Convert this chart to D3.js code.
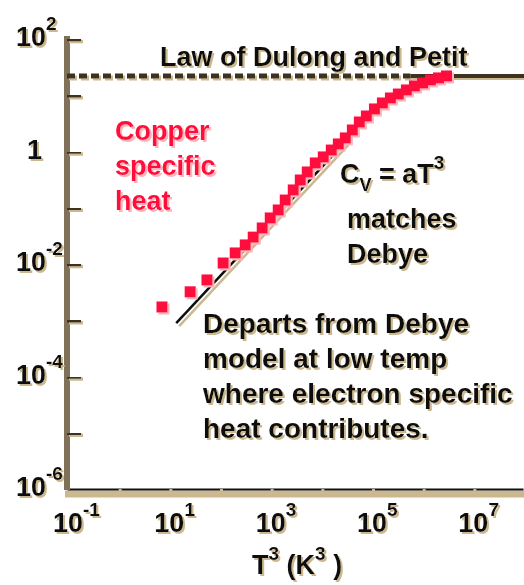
<!DOCTYPE html>
<html>
<head>
<meta charset="utf-8">
<script src="https://cdn.jsdelivr.net/npm/d3@7"></script>
<style>
  body { margin: 0; background: #fff; }
  svg { display: block; font-family: "Liberation Sans", Arial, sans-serif; font-weight: bold; }
</style>
</head>
<body>
<svg id="chart" width="524" height="585"></svg>
<script>
"use strict";

// copper specific heat (T^3 in K^3, Cv in J/mol K)
const copperT3 = [7.5, 27, 58, 121, 209, 330, 474, 714, 1028, 1479, 2033, 2924, 4027, 5534,
  7960, 11450, 16480, 22700, 31200, 42900, 58900, 81100, 1.17e5, 1.68e5, 2.42e5, 3.47e5,
  5.0e5, 7.2e5, 1.04e6, 1.49e6, 2.15e6, 3.09e6];
const copperCv = [1.72e-3, 3.2e-3, 5.2e-3, 0.0104, 0.0157, 0.0218, 0.030, 0.0436, 0.0658, 0.0912,
  0.137, 0.207, 0.311, 0.432, 0.625, 0.80, 1.06, 1.36, 1.74, 2.41, 3.34, 4.27, 5.7, 7.28,
  8.93, 10.5, 12.4, 14.6, 16.5, 18.7, 20.3, 22];

// Debye T^3 line (end points)
const debyeT3 = [14.3, 31200];
const debyeCv = [8.9e-4, 1.48];

// Dulong-Petit limit, dashed up to where it turns solid
const dulongCv = 22;
const dulongSolidFrom = 6e5;

// tick labels (powers of ten)
const xLabelExps = [-1, 1, 3, 5, 7];
const yLabelExps = [2, 0, -2, -4, -6];

const width = 524, height = 585;
const margin = { left: 67, top: 39, right: 1, bottom: 96 };

const tan = "#cbb88e";
const svg = d3.select("#chart");

//drop shadows; user space so flat lines still get one
const defs = svg.append("defs");
const shadow = function (id, color, d) {
  defs.append("filter").attr("id", id).attr("filterUnits", "userSpaceOnUse")
    .attr("x", 0).attr("y", 0).attr("width", width).attr("height", height)
    .append("feDropShadow").attr("dx", d).attr("dy", d)
    .attr("stdDeviation", 0.3).attr("flood-color", color).attr("flood-opacity", 1);
};
shadow("tanShadow", tan, 2);
shadow("pinkShadow", "#ffb3ba", 2);
shadow("lineShadow", tan, 3);

const x = d3.scaleLog().domain([1e-1, 1e8]).range([margin.left, width - margin.right]);
const y = d3.scaleLog().domain([1e-6, 1e2]).range([height - margin.bottom, margin.top]);

// x axis: tan band under a black line, ticks pointing up
svg.append("line")
  .attr("x1", x(1e-1) - 2).attr("x2", width)
  .attr("y1", y(1e-6) + 5).attr("y2", y(1e-6) + 5)
  .attr("stroke", tan).attr("stroke-width", 7);

const xAxis = svg.append("g")
  .attr("transform", "translate(0," + y(1e-6) + ")")
  .call(d3.axisTop(x).tickValues(d3.range(0, 9).map(e => Math.pow(10, e)))
    .tickSize(8).tickSizeOuter(0).tickFormat(""));
xAxis.select(".domain").attr("stroke", "#111").attr("stroke-width", 2);
xAxis.selectAll(".tick line").attr("stroke", "#3a3224").attr("stroke-width", 3)
  .attr("filter", "url(#tanShadow)");

// y axis: thick brown line, ticks pointing right
const yAxis = svg.append("g")
  .attr("transform", "translate(" + x(1e-1) + ",0)")
  .call(d3.axisRight(y).tickValues(d3.range(-5, 3).map(e => Math.pow(10, e)))
    .tickSize(14).tickSizeOuter(0).tickFormat(""));
yAxis.select(".domain").attr("stroke", "#7f7259").attr("stroke-width", 6)
  .attr("d", "M0," + (y(1e2) - 3) + "V" + (y(1e-6) + 1));
yAxis.selectAll(".tick line").attr("stroke", "#3a3224").attr("stroke-width", 3.5)
  .attr("filter", "url(#tanShadow)");

// power-of-ten labels
const powLabel = function (px, py, exp) {
  const t = svg.append("text").attr("x", px).attr("y", py)
    .attr("font-size", 27).attr("fill", "#111").attr("filter", "url(#tanShadow)");
  if (exp === 0) { t.text("1"); return; }
  t.append("tspan").text("10");
  t.append("tspan").attr("font-size", 19).attr("dy", -16).text(exp < 0 ? "-" + (-exp) : exp);
};
for (let e of xLabelExps) powLabel(x(Math.pow(10, e)) - 14, 532, e);
for (let e of yLabelExps) powLabel(e === 0 ? 27 : 16, y(Math.pow(10, e)) + 7, e);

// x axis title T^3 (K^3)
const title = svg.append("text").attr("x", 252).attr("y", 574)
  .attr("font-size", 27).attr("fill", "#111").attr("filter", "url(#tanShadow)");
title.append("tspan").text("T");
title.append("tspan").attr("font-size", 19).attr("dy", -14).text("3");
title.append("tspan").attr("dy", 14).text(" (K");
title.append("tspan").attr("font-size", 19).attr("dy", -14).text("3");
title.append("tspan").attr("dy", 14).text(" )");

// Dulong and Petit line
svg.append("line")
  .attr("x1", x(1e-1)).attr("x2", x(dulongSolidFrom))
  .attr("y1", y(dulongCv)).attr("y2", y(dulongCv))
  .attr("stroke", "#3a3224").attr("stroke-width", 5).attr("stroke-dasharray", "8,4")
  .attr("filter", "url(#tanShadow)");
svg.append("line")
  .attr("x1", x(dulongSolidFrom)).attr("x2", width)
  .attr("y1", y(dulongCv)).attr("y2", y(dulongCv))
  .attr("stroke", "#3a3224").attr("stroke-width", 4)
  .attr("filter", "url(#tanShadow)");

svg.append("text").attr("x", 160).attr("y", 66)
  .attr("font-size", 27).attr("fill", "#111").attr("filter", "url(#tanShadow)")
  .text("Law of Dulong and Petit");

// Debye T^3 line
const line = d3.line().x(d => x(d[0])).y(d => y(d[1]));
svg.append("path")
  .attr("d", line(d3.zip(debyeT3, debyeCv)))
  .attr("stroke", "#111").attr("stroke-width", 2.5).attr("fill", "none")
  .attr("filter", "url(#lineShadow)");

// copper data squares
const sq = 11;
svg.append("g").attr("filter", "url(#pinkShadow)")
  .selectAll("rect")
  .data(d3.zip(copperT3, copperCv))
  .enter()
  .append("rect")
  .attr("x", d => x(d[0]) - sq / 2)
  .attr("y", d => y(d[1]) - sq / 2)
  .attr("width", sq).attr("height", sq)
  .attr("fill", "#ff0a3c");

// annotations
const block = function (lines, px, py, color, filt, size) {
  const t = svg.append("text").attr("font-size", size).attr("fill", color)
    .attr("filter", "url(#" + filt + ")");
  lines.forEach((s, i) => {
    t.append("tspan").attr("x", px).attr("y", py + i * 35).text(s);
  });
};
block(["Copper", "specific", "heat"], 115, 140, "#ff0a3c", "pinkShadow", 27);
block(["matches", "Debye"], 347, 228, "#111", "tanShadow", 27);
block(["Departs from Debye", "model at low temp", "where electron specific", "heat contributes."],
  203, 333, "#111", "tanShadow", 28);

const cv = svg.append("text").attr("x", 340).attr("y", 183)
  .attr("font-size", 27).attr("fill", "#111").attr("filter", "url(#tanShadow)");
cv.append("tspan").text("C");
cv.append("tspan").attr("font-size", 18).attr("dy", 8).text("V");
cv.append("tspan").attr("dy", -8).text(" = aT");
cv.append("tspan").attr("font-size", 19).attr("dy", -14).text("3");
</script>
</body>
</html>
